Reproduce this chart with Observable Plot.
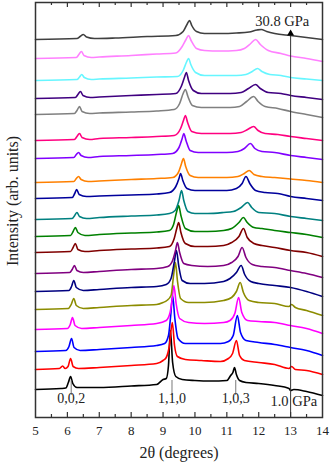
<!DOCTYPE html>
<html>
<head>
<meta charset="utf-8">
<script src="https://cdn.jsdelivr.net/npm/d3@7"></script>
<script src="https://cdn.jsdelivr.net/npm/@observablehq/plot@0.6"></script>
<style>
  html, body { margin: 0; padding: 0; background: #fff; }
</style>
</head>
<body>
<div id="chart"></div>
<script>
// 2θ tick values
const majorTicks = [5, 6, 7, 8, 9, 10, 11, 12, 13, 14];
const minorTicks = [5.5, 6.5, 7.5, 8.5, 9.5, 10.5, 11.5, 12.5, 13.5];

// Miller indices of the labelled reflections and their 2θ positions (1.0 GPa)
const hklLabels = ["0,0,2", "1,1,0", "1,0,3"];
const hklPos = [6.12, 9.28, 11.28];

// pressure labels (bottom and top scans), marked at 2θ = 13
const pressureLabels = ["1.0 GPa", "30.8 GPa"];
const pressureMarker = [13];

// stacked diffraction scans, bottom (1.0 GPa) to top (30.8 GPa): [2θ, intensity + offset]
const scan01 = [[5,28],[5.8,29],[5.95,29.5],[6.03,35],[6.1,41],[6.17,34],[6.3,30],[7,30],[8,31.5],[8.8,33],[9.0,38],[9.1,39],[9.17,52],[9.23,87],[9.3,55],[9.4,41],[9.6,38],[10,37],[10.5,36.5],[11,37],[11.12,42],[11.19,45],[11.24,50],[11.3,43],[11.4,37],[11.6,35],[12,34],[12.5,32],[12.95,29],[13,27],[13.1,28],[13.5,26],[14,22]];
const scan02 = [[5,48],[5.75,49],[5.85,51.5],[5.93,49],[6.02,51],[6.1,59],[6.18,51],[6.35,49],[7,50],[8,52],[8.8,54],[9,57],[9.1,60],[9.2,72],[9.29,95],[9.36,72],[9.45,61],[9.7,58],[10.2,57],[10.8,56],[11.05,59],[11.18,64],[11.3,77],[11.4,62],[11.55,57],[12,55],[12.5,53],[12.95,49],[13.03,51],[13.15,48],[13.5,47],[14,43]];
const scan03 = [[5,66],[5.95,67],[6.05,71],[6.13,79],[6.21,70],[6.4,67],[7,68],[8,70],[8.8,72],[9.05,74],[9.17,82],[9.24,102],[9.3,122],[9.37,99],[9.47,79],[9.7,74],[10.2,74],[10.8,74],[11.05,76],[11.2,82],[11.33,102],[11.43,85],[11.6,77],[12,75],[12.5,73],[13,70],[13.5,67],[14,62]];
const scan04 = [[5,88],[6,89],[6.09,93],[6.16,100],[6.24,92],[6.45,89],[7,90],[8,92],[8.8,94],[9.1,97],[9.22,105],[9.28,117],[9.34,132],[9.41,114],[9.52,99],[9.8,95],[10.3,94],[10.9,95],[11.1,97],[11.25,104],[11.37,120],[11.47,105],[11.65,97],[12,96],[12.5,95],[13,92],[13.5,89],[14,84]];
const scan05 = [[5,108],[6.03,109],[6.12,113],[6.2,119],[6.28,112],[6.5,109],[7,110],[8,112],[8.8,113],[9,115],[9.12,117],[9.25,122],[9.33,142],[9.39,155],[9.45,137],[9.55,119],[9.8,115],[10.3,115],[10.9,117],[11.15,120],[11.3,126],[11.42,135],[11.52,125],[11.7,117],[12,115],[12.5,114],[12.95,111],[13.03,113],[13.15,110],[13.5,107],[14,102]];
const scan06 = [[5,126],[6.05,127],[6.13,131],[6.2,137],[6.28,130],[6.5,127],[7,128],[8,130],[8.8,131],[9.1,133],[9.25,139],[9.35,155],[9.42,167],[9.49,152],[9.6,137],[9.85,134],[10.3,134],[10.9,136],[11.1,139],[11.3,145],[11.45,152],[11.56,143],[11.75,136],[12,134],[12.5,132],[13,130],[13.5,126],[14,121]];
const scan07 = [[5,144],[6.07,145],[6.15,148],[6.22,152],[6.3,147],[6.5,145],[7,146],[8,148],[8.8,149],[9.15,151],[9.3,157],[9.39,167],[9.45,175],[9.52,165],[9.65,154],[9.9,152],[10.4,151],[10.9,152],[11.15,155],[11.35,161],[11.48,170],[11.6,160],[11.8,153],[12.1,151],[12.5,150],[13,147],[13.5,144],[14,140]];
const scan08 = [[5,165],[6.1,166],[6.18,170],[6.25,174],[6.33,168],[6.55,166],[7,167],[8,168.5],[8.8,169.5],[9.2,171],[9.35,179],[9.43,189],[9.49,195],[9.56,185],[9.7,174],[10,171],[10.4,171],[10.9,172],[11.15,175],[11.38,181],[11.52,189],[11.64,180],[11.85,174],[12.1,172],[12.5,170],[13,167],[13.5,165],[14,161]];
const scan09 = [[5,181],[6.1,182],[6.18,186],[6.25,190],[6.33,185],[6.55,182],[7,183],[8,184.5],[8.8,185.5],[9.2,187],[9.33,193],[9.42,205],[9.49,212],[9.56,202],[9.7,189],[10,186],[10.4,186],[10.9,187],[11.15,189],[11.38,195],[11.52,200],[11.64,195],[11.85,190],[12.1,189],[12.5,187],[13,185],[13.5,183],[14,180]];
const scan10 = [[5,198],[6.15,199],[6.23,202],[6.3,205],[6.38,201],[6.6,199],[7,200],[8,201.5],[8.8,202.5],[9.2,204],[9.38,207],[9.5,217],[9.58,227],[9.65,217],[9.78,206],[10,204],[10.4,204],[10.9,205],[11.2,206],[11.45,210],[11.65,215],[11.78,210],[12,205],[12.5,204],[13,201],[13.5,199],[14,197]];
const scan11 = [[5,219],[6.15,220],[6.23,224],[6.29,228],[6.37,223],[6.6,221],[7,221.5],[8,222.5],[8.8,223.5],[9.2,225],[9.4,231],[9.5,239],[9.55,244],[9.62,237],[9.75,229],[10,227],[10.5,227],[11,227],[11.3,229],[11.48,234],[11.6,241],[11.72,234],[11.9,227],[12.2,225],[12.6,224],[13,221],[13.5,219],[14,217]];
const scan12 = [[5,235],[6.2,236],[6.28,239],[6.35,241],[6.43,238],[6.65,236],[7,236.5],[8,238],[8.8,239],[9.3,240],[9.48,245],[9.57,253],[9.64,259],[9.71,251],[9.85,242],[10.1,240],[10.5,240],[11,240],[11.35,241],[11.55,244],[11.7,247],[11.85,243],[12.1,241],[12.5,240],[13,238.5],[13.5,237],[14,235]];
const scan13 = [[5,259],[6.2,260],[6.28,263],[6.35,265],[6.43,262],[6.65,260],[7,261],[8,262],[8.8,263],[9.3,264],[9.5,270],[9.6,279],[9.65,284],[9.72,277],[9.85,267],[10.1,265],[10.5,265],[11,265],[11.35,266],[11.55,269],[11.74,274],[11.88,269],[12.1,266],[12.5,265],[13,262],[13.5,260],[14,258]];
const scan14 = [[5,277],[6.22,278],[6.3,281],[6.38,284],[6.46,280],[6.7,278],[7,279],[8,280],[8.8,281],[9.35,282],[9.55,289],[9.64,297],[9.7,302],[9.77,295],[9.9,286],[10.2,284],[10.6,284],[11.1,284],[11.45,285],[11.65,288],[11.84,291],[11.98,287],[12.2,284],[12.6,283],[13,281],[13.5,279],[14,277]];
const scan15 = [[5,303],[6.22,304],[6.3,307],[6.38,311],[6.46,306],[6.7,304],[7,304.5],[8,305.5],[8.8,306.5],[9.35,308],[9.52,314],[9.63,324],[9.7,328],[9.78,321],[9.92,312],[10.2,310],[10.6,310],[11.1,310],[11.4,311],[11.62,316],[11.84,321],[11.98,316],[12.2,311],[12.6,309],[13,306],[13.5,303],[14,300]];
const scan16 = [[5,319],[6.25,320],[6.33,323],[6.41,326],[6.49,322],[6.72,320],[7,320.5],[8,322],[8.8,323],[9.4,324],[9.57,331],[9.67,340],[9.73,345],[9.8,337],[9.95,327],[10.2,324],[10.6,324],[11.1,324],[11.45,325],[11.68,329],[11.9,333],[12.05,329],[12.3,325],[12.7,324],[13,322],[13.5,320],[14,318]];
const scan17 = [[5,337],[6.3,338],[6.38,340.5],[6.45,343],[6.53,340],[6.75,338],[7,338.5],[8,339.5],[8.8,340.5],[9.45,341],[9.63,347],[9.73,355],[9.8,359],[9.87,353],[10.02,345],[10.3,342],[10.8,342],[11.3,342],[11.6,343],[11.8,346],[11.96,349],[12.1,346],[12.35,343],[12.7,342],[13,340],[13.5,338.5],[14,337]];
const scan18 = [[5,359],[6.28,360],[6.36,363],[6.44,366],[6.52,362],[6.75,360],[7,360.5],[8,362],[8.8,363.5],[9.4,364.5],[9.6,371],[9.72,378],[9.8,382],[9.88,377],[10.05,369],[10.3,367],[10.8,366.5],[11.3,367],[11.55,369],[11.75,374],[11.9,378],[12.05,373],[12.3,367],[12.7,364],[13,361.5],[13.5,359],[14,356]];
const scan19 = [[5,378],[6.3,379],[6.4,381],[6.5,383],[6.6,380.5],[6.85,379],[7.5,379.5],[8.5,381],[9.4,382],[9.63,386],[9.75,393],[9.83,397],[9.9,392],[10.05,386],[10.3,384],[10.8,384],[11.3,384.5],[11.7,385.5],[11.95,387.5],[12.08,388],[12.25,386],[12.5,384],[13,382],[13.5,380],[14,378]];

const scans = [scan01, scan02, scan03, scan04, scan05, scan06, scan07, scan08, scan09, scan10,
               scan11, scan12, scan13, scan14, scan15, scan16, scan17, scan18, scan19];

// line colours, bottom to top
const scanColors = ["#000000", "#ff0000", "#0000ff", "#ff00ff", "#8c8c00", "#000080", "#800080",
                    "#800000", "#008000", "#008080", "#00009c", "#ff8000", "#8000ff", "#ff0080",
                    "#808080", "#400080", "#66f6ff", "#ff80ff", "#404040"];

const serif = "'Liberation Serif', 'Times New Roman', serif";

const marks = [];
scans.forEach((s, i) => {
  marks.push(Plot.line(s, {x: d => d[0], y: d => d[1], stroke: scanColors[i], strokeWidth: 1.6, curve: "monotone-x"}));
});

marks.push(
  Plot.frame({stroke: "#333", strokeWidth: 1.5}),
  // inward ticks, bottom and top
  Plot.ruleX(majorTicks.slice(1, -1), {stroke: "#333", strokeWidth: 1.2, insetTop: 410}),
  Plot.ruleX(majorTicks.slice(1, -1), {stroke: "#333", strokeWidth: 1.2, insetBottom: 410}),
  Plot.ruleX(minorTicks, {stroke: "#333", strokeWidth: 1.2, insetTop: 412}),
  Plot.ruleX(minorTicks, {stroke: "#333", strokeWidth: 1.2, insetBottom: 412}),
  // tick labels
  Plot.text(majorTicks, {x: d => d, frameAnchor: "bottom", dy: 17, text: d => String(d), fontSize: 13, fill: "#222"}),
  // pressure marker line with arrow
  Plot.ruleX(pressureMarker, {stroke: "#333", strokeWidth: 1, insetTop: 29}),
  Plot.dot(pressureMarker, {x: d => d, frameAnchor: "top", dy: 31, symbol: "triangle", r: 2.6, fill: "#000", stroke: null}),
  Plot.text([pressureLabels[0]], {x: pressureMarker[0] + 0.1, frameAnchor: "bottom", dy: -12, text: d => d, fontSize: 14.5, fill: "#222"}),
  Plot.text([pressureLabels[1]], {x: pressureMarker[0] - 0.26, frameAnchor: "top", dy: 13, text: d => d, fontSize: 14.5, fill: "#222"}),
  // hkl markers and labels
  Plot.ruleX(hklPos, {stroke: "#555", strokeWidth: 0.8, insetTop: 378, insetBottom: 22}),
  Plot.text(hklLabels, {x: (d, i) => hklPos[i], frameAnchor: "bottom", dy: -15, text: d => d, fontSize: 14, fill: "#222"}),
  // axis titles
  Plot.text(["2θ (degrees)"], {frameAnchor: "bottom", dy: 40, text: d => d, fontSize: 16, fill: "#222"}),
  Plot.text(["Intensity (arb. units)"], {frameAnchor: "left", textAnchor: "middle", dx: -23, dy: -9, rotate: -90, text: d => d, fontSize: 16, fill: "#222"})
);

const chart = Plot.plot({
  width: 332,
  height: 467,
  marginLeft: 35,
  marginRight: 10,
  marginTop: 2,
  marginBottom: 50,
  x: {domain: [5, 14], axis: null},
  y: {domain: [0, 415], axis: null},
  style: {fontFamily: serif, background: "#fff", overflow: "visible"},
  marks
});
document.getElementById("chart").appendChild(chart);
</script>
</body>
</html>
